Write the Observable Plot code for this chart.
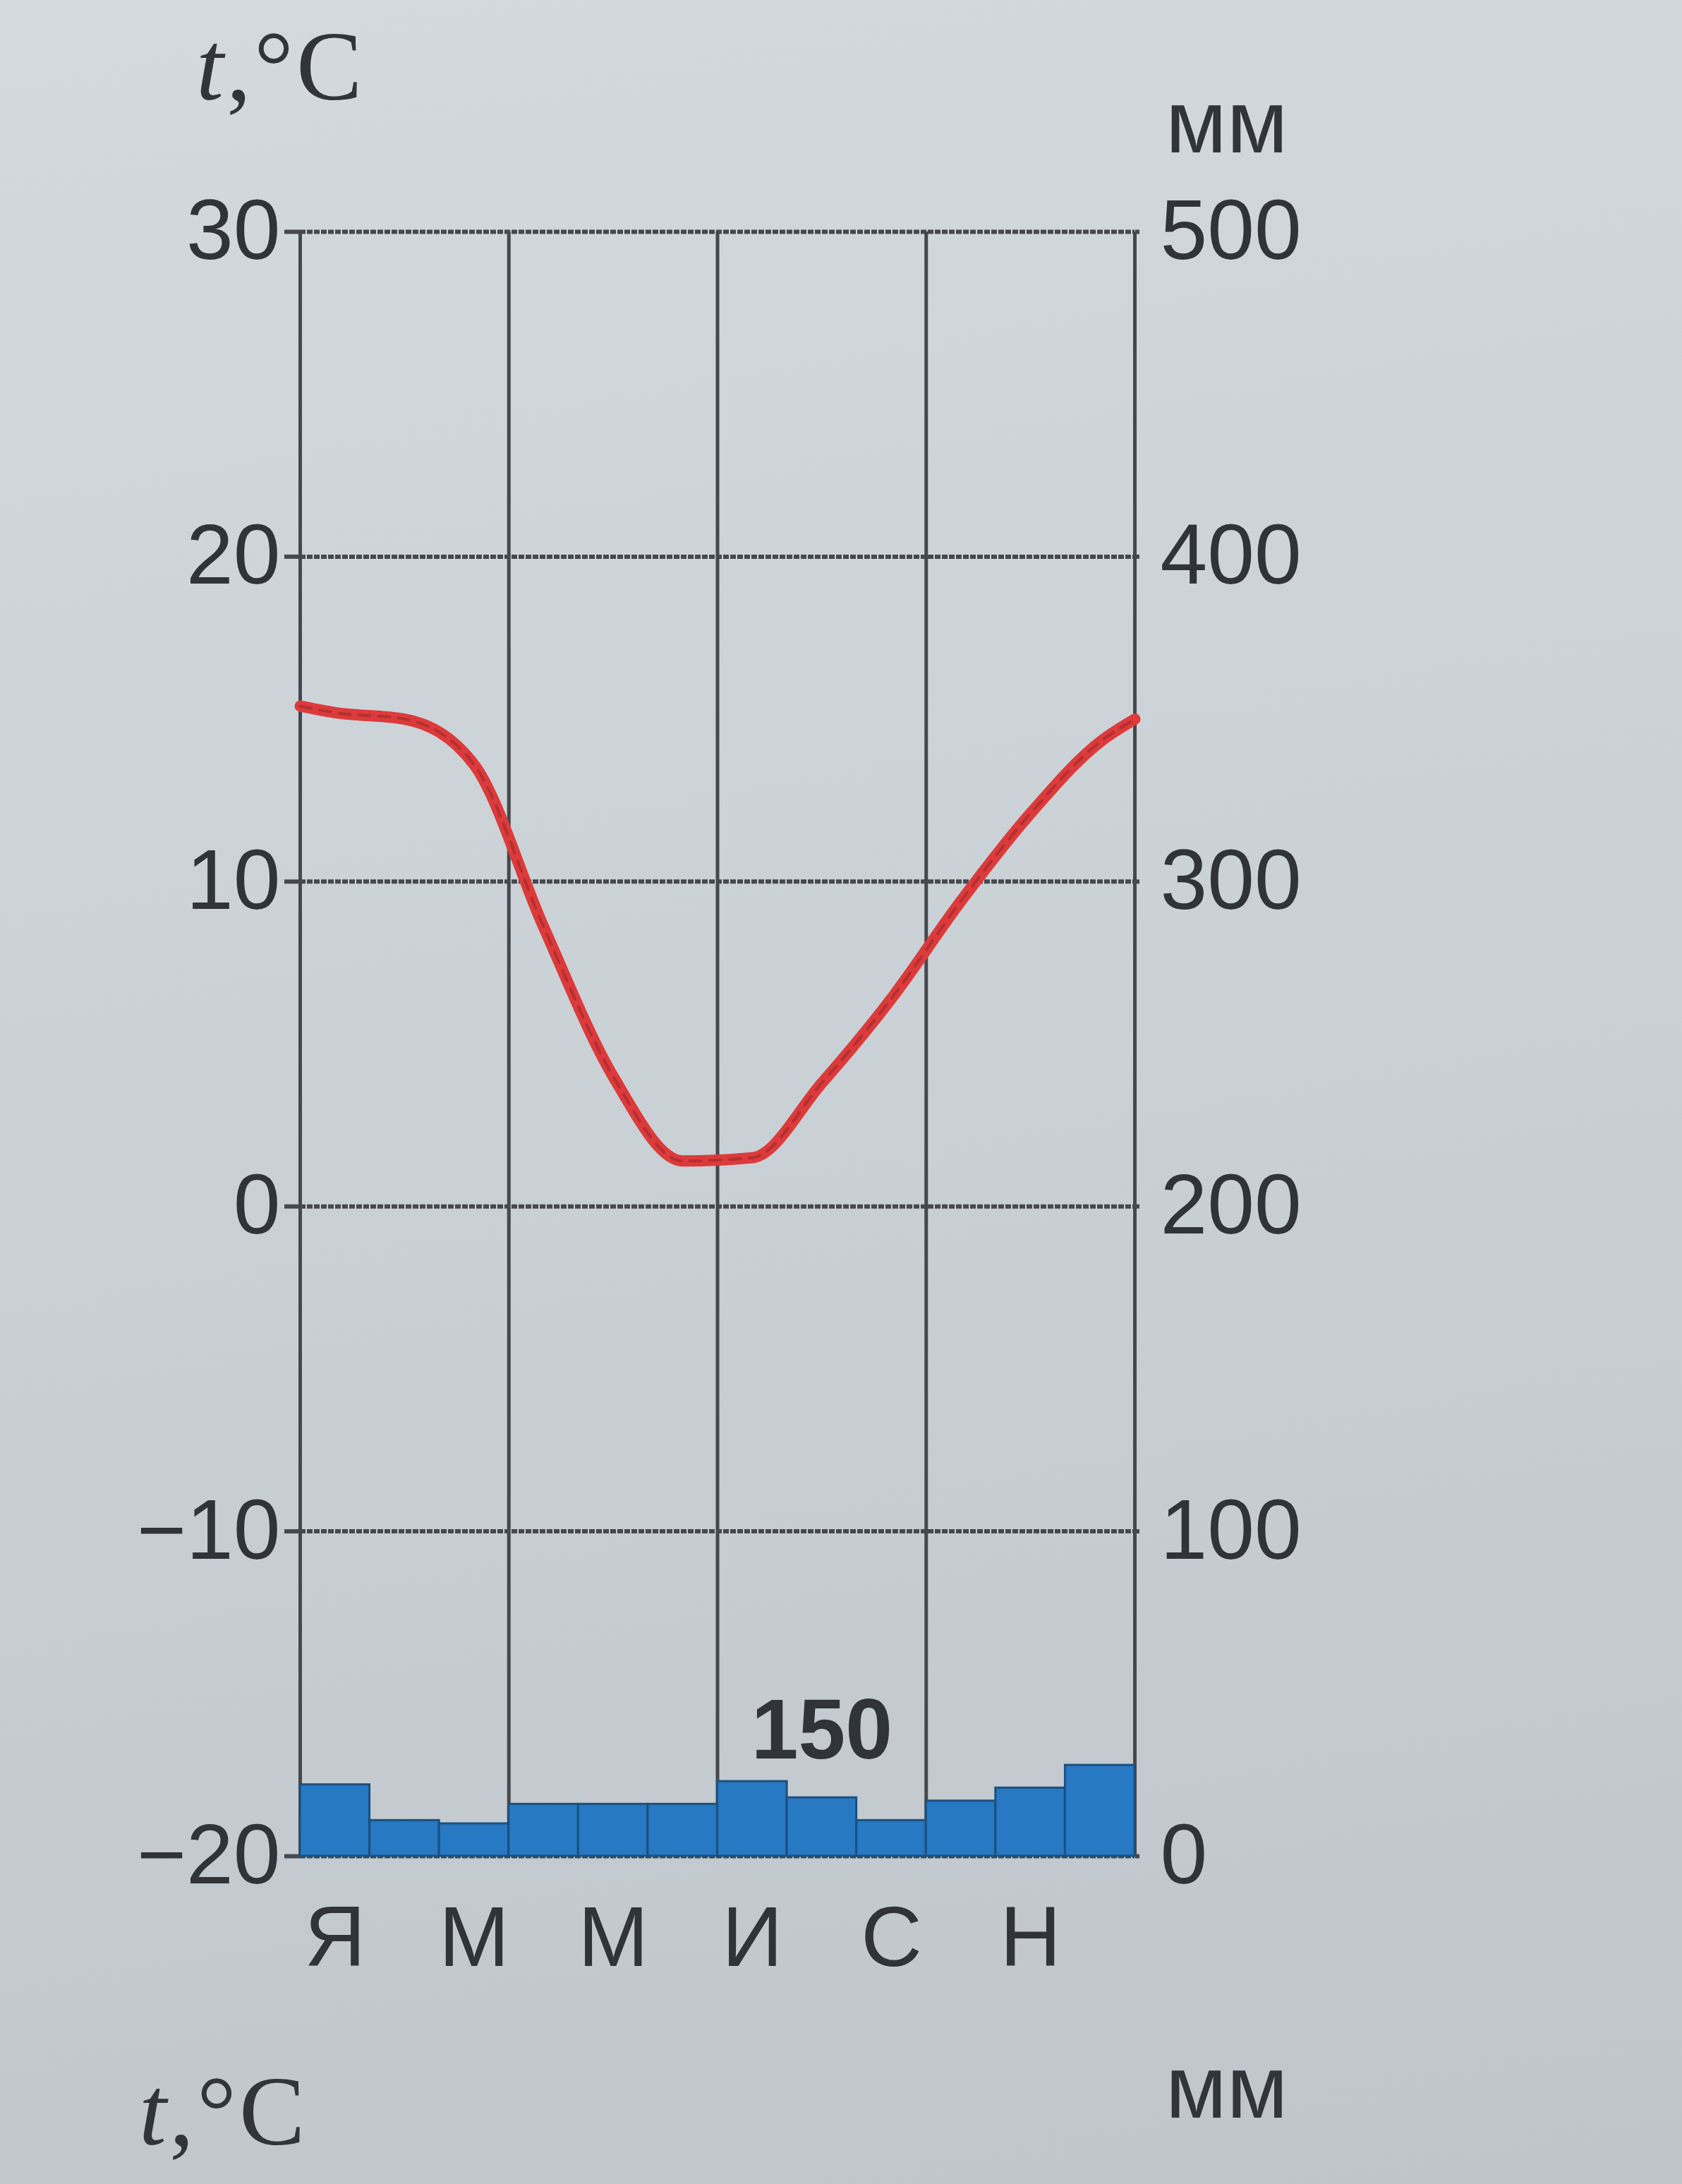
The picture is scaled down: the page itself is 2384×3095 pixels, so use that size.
<!DOCTYPE html>
<html>
<head>
<meta charset="utf-8">
<script src="https://cdn.jsdelivr.net/npm/d3@7"></script>
<script src="https://cdn.jsdelivr.net/npm/@observablehq/plot@0.6"></script>
<style>
  html, body { margin: 0; padding: 0; }
  body {
    width: 2384px; height: 3095px; position: relative; overflow: hidden;
    background: linear-gradient(170deg, #d3d9dd 0%, #cad1d6 50%, #bfc5ca 100%);
    font-family: "Liberation Sans", Arial, sans-serif; color: #313438;
  }
  #chart { position: absolute; left: 0; top: 0; }
  .lbl { position: absolute; white-space: nowrap; line-height: 1; }
  .serif { font-family: "Liberation Serif", "DejaVu Serif", serif; }
</style>
</head>
<body>
<div class="lbl serif" style="left:278px; top:24px; font-size:140px; letter-spacing:4px;"><i>t</i>,°C</div>
<div class="lbl" style="left:1652px; top:110px; font-size:126px;">мм</div>
<div id="chart"></div>
<div class="lbl serif" style="left:197px; top:2922px; font-size:140px; letter-spacing:4px;"><i>t</i>,°C</div>
<div class="lbl" style="left:1652px; top:2895px; font-size:126px;">мм</div>
<script>
// ---- data ----
const months = ["Я", "Ф", "М", "А", "М", "И", "И", "А", "С", "О", "Н", "Д"];
// mean monthly temperature, °C (at month centres)
const temperature = [15.2, 15.0, 13.6, 8.6, 4.0, 1.4, 1.5, 3.8, 6.4, 9.4, 12.1, 14.3];
// curve values at the year's start and end (left and right frame edges)
const temperatureYearStart = 15.4;
const temperatureYearEnd = 15.0;
// monthly precipitation, mm
const precipitation = [22, 11, 10, 16, 16, 16, 23, 18, 11, 17, 21, 28];
// axes
const tempTicks = [-20, -10, 0, 10, 20, 30];
const seasonBounds = [0, 3, 6, 9, 12];
const labelledMonths = [0, 2, 4, 6, 8, 10];
// annotation
const annualLabel = "150";
const annualLabelMonth = 7;
// right-axis relation: mm = (t - mmZeroAt) * mmPerDegree
const mmZeroAt = -20;
const mmPerDegree = 10;

const toT = mm => mm / mmPerDegree + mmZeroAt;

const tempData = [
  {x: 0, t: temperatureYearStart},
  ...temperature.map((t, i) => ({x: i + 0.5, t})),
  {x: 12, t: temperatureYearEnd}
];

const gridColor = "#45484c";
const textColor = "#303337";

const chart = Plot.plot({
  width: 2384,
  height: 2860,
  marginTop: 328,
  marginLeft: 425,
  marginRight: 776,
  marginBottom: 230,
  x: {domain: [0, 12], axis: null},
  y: {domain: [-20, 30], axis: null},
  style: {background: "transparent", fontFamily: "Liberation Sans, Arial, sans-serif", overflow: "visible"},
  marks: [
    Plot.ruleY(tempTicks, {x1: 0, x2: 12, stroke: gridColor, strokeWidth: 6, strokeDasharray: "8 2"}),
    Plot.ruleX(seasonBounds, {y1: -20, y2: 30, stroke: gridColor, strokeWidth: 5}),
    Plot.rect(precipitation, {
      x1: (d, i) => i, x2: (d, i) => i + 1,
      y1: mmZeroAt, y2: d => toT(d),
      fill: "#2679c2", stroke: "#1d4f7e", strokeWidth: 3
    }),
    Plot.line(tempData, {x: "x", y: "t", curve: "monotone-x", stroke: "#dc3a3b", strokeWidth: 16, strokeLinecap: "round"}),
    Plot.line(tempData, {x: "x", y: "t", curve: "monotone-x", stroke: "#5a1616", strokeWidth: 4, strokeOpacity: 0.3, strokeDasharray: "16 12"}),
    Plot.text([annualLabel], {
      x: annualLabelMonth + 0.5, y: toT(d3.max(precipitation)),
      text: d => d, lineAnchor: "bottom", dy: -10,
      fontSize: 120, fontWeight: "bold", fill: textColor
    }),
    Plot.axisY(tempTicks, {
      anchor: "left", label: null, tickSize: 22, tickPadding: 6,
      fontSize: 120, fill: textColor, stroke: gridColor, strokeWidth: 6
    }),
    Plot.axisY(tempTicks, {
      anchor: "right", label: null, tickSize: 6, tickPadding: 30,
      tickFormat: t => String((t - mmZeroAt) * mmPerDegree),
      fontSize: 120, fill: textColor, stroke: gridColor, strokeWidth: 6
    }),
    Plot.axisX(labelledMonths.map(i => i + 0.5), {
      anchor: "bottom", label: null, tickSize: 0, tickPadding: 70,
      tickFormat: x => months[Math.floor(x)],
      fontSize: 120, fill: textColor
    })
  ]
});
document.getElementById("chart").appendChild(chart);
</script>
</body>
</html>
